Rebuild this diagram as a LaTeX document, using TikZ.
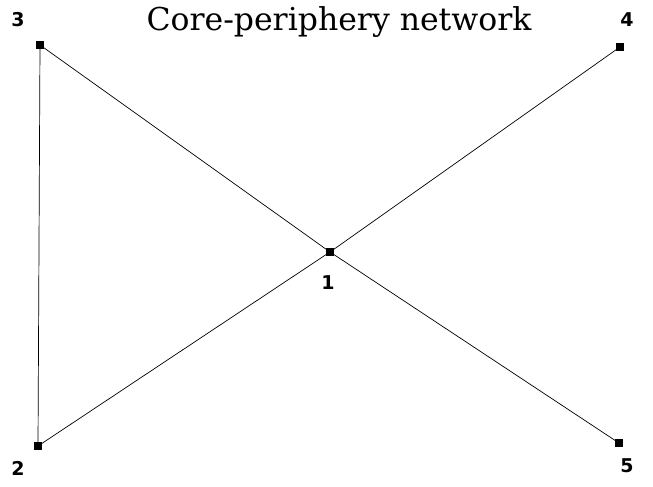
\documentclass[tikz,border=0pt]{standalone}
\usepackage{fontspec}
\newfontfamily\labelfont{DejaVu Sans}
\newfontfamily\titlefont{DejaVu Serif}
\usetikzlibrary{positioning}

\begin{document}
\begin{tikzpicture}[x=1pt, y=-1pt,
    vertex/.style={draw, fill=black, rectangle, minimum size=7pt, inner sep=0pt},
    vlabel/.style={font=\labelfont\bfseries\fontsize{19}{19}\selectfont, inner sep=0pt},
    edge/.style={line width=0.7pt}]
    \useasboundingbox (0,0) rectangle (653,487);
    \node (title) at (339,22) {\titlefont\fontsize{31.5}{31.5}\selectfont Core-periphery network};
    \node[vertex] (v1) at (330,252) {};
    \node[vertex] (v2) at (38,446) {};
    \node[vertex] (v3) at (40,45) {};
    \node[vertex] (v4) at (620,47) {};
    \node[vertex] (v5) at (619,443) {};
    \node[vlabel] (l1) at (328,283) {1};
    \node[vlabel] (l2) at (18,468) {2};
    \node[vlabel] (l3) at (18,20) {3};
    \node[vlabel] (l4) at (627,20) {4};
    \node[vlabel] (l5) at (627,466) {5};
    \draw[edge] (v3) -- (v2);
    \draw[edge] (v3) -- (v1);
    \draw[edge] (v1) -- (v5);
    \draw[edge] (v2) -- (v1);
    \draw[edge] (v1) -- (v4);
\end{tikzpicture}
\end{document}
